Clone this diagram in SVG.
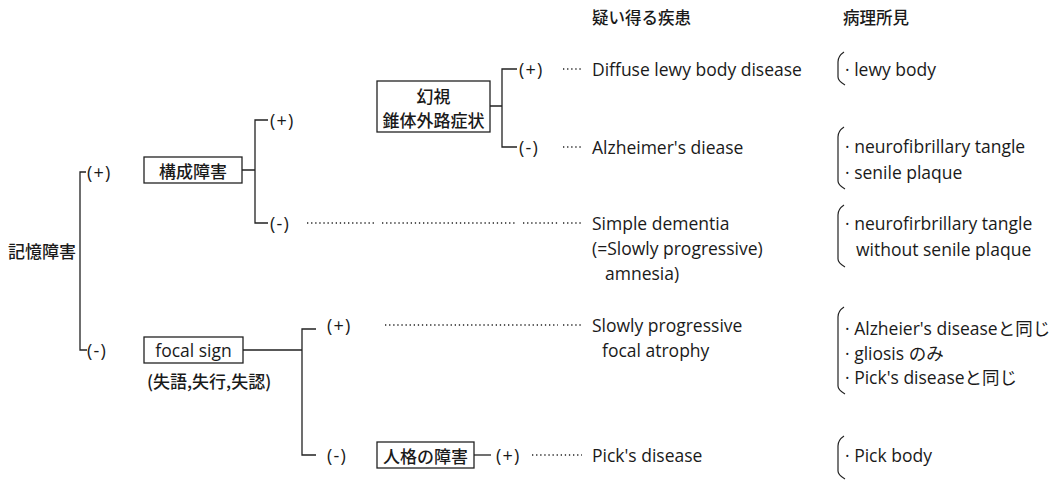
<svg xmlns="http://www.w3.org/2000/svg" width="1063" height="481" viewBox="0 0 1063 481">
<style>
text{font-family:"Open Sans","Noto Sans CJK JP",sans-serif;font-size:17.5px;fill:#1a1a1a;dominant-baseline:central}
.jp{font-family:"Noto Sans CJK JP",sans-serif;font-weight:500;font-size:17px}
.pm{font-size:18px;letter-spacing:1.2px}
.box{fill:#fff;stroke:#222;stroke-width:1.3}
.ln{fill:none;stroke:#222;stroke-width:1.3}
.dot{fill:none;stroke:#222;stroke-width:1.5;stroke-dasharray:1.3 2.8}
.br{fill:none;stroke:#222;stroke-width:1.2}
</style>
<g id="headers">
<text class="jp" x="592" y="17" style="font-size:16.5px">疑い得る疾患</text>
<text class="jp" x="843" y="17" style="font-size:16.5px">病理所見</text>
</g>
<g id="connectors">
<path class="ln" d="M86,172 H80 V350 H87"/>
<path class="ln" d="M242,170 H255 M268,120 H255 V223 H268"/>
<path class="ln" d="M490,106 H502 M517,69 H502 V147 H517"/>
<path class="ln" d="M243,350 H302 M316,329 H302 V455 H316"/>
<path class="ln" d="M474,455 H491"/>
<path class="dot" d="M307,223 H374 M382,223 H516 M523,223 H558 M563,223 H582"/>
<path class="dot" d="M563,69 H582 M563,147 H582"/>
<path class="dot" d="M385,325 H558 M563,325 H582"/>
<path class="dot" d="M532,455 H582"/>
</g>
<g id="root"><text class="jp" x="8" y="250">記憶障害</text></g>
<g id="l1-plus"><text class="pm" x="87" y="172">(+)</text></g>
<g id="l1-minus"><text class="pm" x="87" y="350">(-)</text></g>
<g id="kosei">
<rect class="box" x="144" y="157" width="98" height="26"/>
<text class="jp" x="193" y="170" text-anchor="middle">構成障害</text>
</g>
<g id="kosei-plus"><text class="pm" x="270" y="120">(+)</text></g>
<g id="kosei-minus"><text class="pm" x="270" y="223">(-)</text></g>
<g id="genshi">
<rect class="box" x="377" y="81" width="113" height="51"/>
<text class="jp" x="433.5" y="95" text-anchor="middle">幻視</text>
<text class="jp" x="433.5" y="119" text-anchor="middle">錐体外路症状</text>
</g>
<g id="genshi-plus"><text class="pm" x="519" y="69">(+)</text></g>
<g id="genshi-minus"><text class="pm" x="519" y="147">(-)</text></g>
<g id="focal">
<rect class="box" x="144" y="337" width="99" height="26"/>
<text x="193.5" y="350" text-anchor="middle">focal sign</text>
<text class="jp" x="147" y="380">(失語,失行,失認)</text>
</g>
<g id="focal-plus"><text class="pm" x="327" y="325">(+)</text></g>
<g id="focal-minus"><text class="pm" x="327" y="455">(-)</text></g>
<g id="jinkaku">
<rect class="box" x="377" y="442" width="97" height="26"/>
<text class="jp" x="425.5" y="455" text-anchor="middle">人格の障害</text>
</g>
<g id="jinkaku-plus"><text class="pm" x="496" y="455">(+)</text></g>
<g id="d-dlb"><text x="592" y="69">Diffuse lewy body disease</text></g>
<g id="d-ad"><text x="592" y="147">Alzheimer's diease</text></g>
<g id="d-sd">
<text x="592" y="223">Simple dementia</text>
<text x="592" y="248">(=Slowly progressive)</text>
<text x="605" y="273">amnesia)</text>
</g>
<g id="d-spfa">
<text x="592" y="325">Slowly progressive</text>
<text x="602" y="350">focal atrophy</text>
</g>
<g id="d-pick"><text x="592" y="455">Pick's disease</text></g>
<g id="p1">
<path class="br" d="M844,52 Q838,56 838,62 V77 Q838,81 845,85"/>
<text x="845" y="69">· lewy body</text>
</g>
<g id="p2">
<path class="br" d="M844,127 Q838,131 838,137 V181 Q838,185 845,189"/>
<text x="845" y="146">· neurofibrillary tangle</text>
<text x="845" y="172">· senile plaque</text>
</g>
<g id="p3">
<path class="br" d="M844,205 Q838,209 838,215 V259 Q838,263 845,267"/>
<text x="845" y="223">· neurofirbrillary tangle</text>
<text x="856" y="249">without senile plaque</text>
</g>
<g id="p4">
<path class="br" d="M844,307 Q838,311 838,317 V386 Q838,390 845,394"/>
<text x="845" y="328">· Alzheier's diseaseと同じ</text>
<text x="845" y="353">· gliosis のみ</text>
<text x="845" y="377">· Pick's diseaseと同じ</text>
</g>
<g id="p5">
<path class="br" d="M844,436 Q838,440 838,446 V471 Q838,475 845,479"/>
<text x="845" y="455">· Pick body</text>
</g>
</svg>
